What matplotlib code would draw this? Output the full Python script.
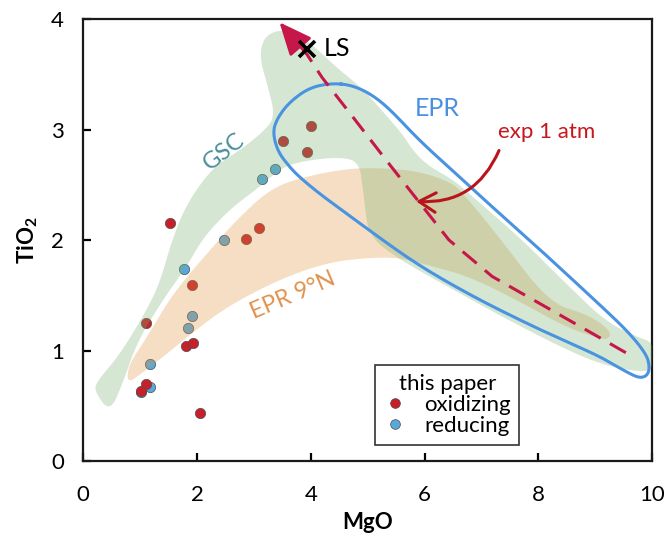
import numpy as np
import matplotlib.pyplot as plt
from matplotlib.lines import Line2D

plt.rcParams['font.family'] = ['Lato', 'DejaVu Sans']
plt.rcParams['mathtext.fontset'] = 'custom'
plt.rcParams['mathtext.bf'] = 'Lato:bold'
plt.rcParams['mathtext.rm'] = 'Lato'

# this paper - experiments
ox_mgo = [1.52, 2.87, 3.09, 3.52, 3.93, 4.00, 1.92, 1.10, 1.80, 1.93, 1.10, 1.01, 2.05]
ox_tio2 = [2.15, 2.01, 2.11, 2.90, 2.80, 3.03, 1.59, 1.25, 1.04, 1.07, 0.70, 0.63, 0.43]
red_mgo = [1.78, 1.92, 1.85, 1.18, 1.17, 1.02, 2.47, 3.15, 3.37]
red_tio2 = [1.74, 1.31, 1.20, 0.88, 0.67, 0.62, 2.00, 2.55, 2.64]

# LS composition
ls_mgo, ls_tio2 = 3.93, 3.73

# GSC field outline
gsc_mgo = [0.47, 0.21, 0.22, 0.64, 1.12, 1.35, 1.56, 1.82, 2.28, 2.75, 3.14, 3.38,
           3.24, 3.11, 3.14, 3.25, 3.45, 3.70, 3.98, 4.50, 4.89, 5.29, 5.61, 5.81,
           6.07, 6.52, 6.85, 7.66, 8.54, 9.19, 9.76, 10.03, 10.03, 9.70, 9.07, 8.36,
           7.31, 6.26, 5.64, 5.17, 5.04, 4.99, 4.92, 4.85, 4.50, 3.92, 3.50, 3.10,
           2.63, 2.28, 2.05, 1.82, 1.40, 0.94, 0.70]
gsc_tio2 = [0.44, 0.62, 0.71, 0.96, 1.37, 1.62, 2.00, 2.33, 2.66, 2.81, 2.97, 3.11,
            3.40, 3.63, 3.78, 3.86, 3.90, 3.88, 3.79, 3.54, 3.38, 3.15, 2.96, 2.80,
            2.67, 2.54, 2.39, 2.03, 1.58, 1.26, 1.12, 1.07, 0.82, 0.81, 0.88, 1.04,
            1.32, 1.62, 1.80, 1.97, 2.08, 2.14, 2.45, 2.71, 2.75, 2.72, 2.66, 2.48,
            2.30, 2.12, 1.97, 1.76, 1.46, 1.07, 0.71]

# EPR 9N field outline
epr9_mgo = [0.77, 0.82, 1.12, 1.58, 2.28, 2.75, 3.33, 4.03, 4.73, 5.33, 5.91, 6.49,
            6.73, 7.26, 8.19, 8.85, 9.20, 9.28, 9.20, 9.07, 8.49, 7.61, 6.78, 6.08,
            5.56, 5.03, 4.33, 3.52, 2.57, 1.99, 1.40, 0.94, 0.82]
epr9_tio2 = [0.76, 0.89, 1.12, 1.52, 1.94, 2.21, 2.48, 2.59, 2.65, 2.65, 2.62, 2.52,
             2.39, 2.06, 1.43, 1.33, 1.21, 1.14, 1.10, 1.11, 1.21, 1.46, 1.67, 1.77,
             1.84, 1.84, 1.80, 1.66, 1.41, 1.19, 0.94, 0.76, 0.72]

# EPR field outline
epr_mgo = [4.38, 4.73, 5.06, 5.38, 5.91, 6.49, 7.08, 7.89, 9.07, 9.60, 9.91, 9.96,
           9.91, 9.77, 9.50, 9.07, 8.36, 7.66, 6.96, 6.26, 5.73, 5.21, 4.68, 4.15,
           3.80, 3.63, 3.42, 3.33, 3.42, 3.63, 3.98]
epr_tio2 = [3.42, 3.40, 3.32, 3.19, 2.90, 2.63, 2.35, 1.98, 1.42, 1.16, 0.96, 0.84,
            0.77, 0.75, 0.82, 0.95, 1.11, 1.28, 1.46, 1.66, 1.83, 2.02, 2.22, 2.42,
            2.57, 2.66, 2.80, 2.98, 3.11, 3.25, 3.38]

# 1 atm experimental trend
exp_mgo = [9.54, 8.83, 8.01, 7.19, 6.43, 5.91, 5.33, 4.73, 4.20, 3.92]
exp_tio2 = [0.98, 1.19, 1.43, 1.67, 2.00, 2.34, 2.72, 3.12, 3.47, 3.69]
exp_tip = (3.45, 3.97)


def rounded(x, y, n=3):
    # corner cutting so the hand drawn fields get soft edges
    p = np.column_stack([x, y])
    for _ in range(n):
        q = np.roll(p, -1, axis=0)
        p = np.column_stack([0.75 * p + 0.25 * q, 0.25 * p + 0.75 * q]).reshape(-1, 2)
    p = np.vstack([p, p[:1]])
    return p[:, 0], p[:, 1]


fig = plt.figure(figsize=(6.66, 5.4), dpi=100)
ax = fig.add_axes([0.125, 0.1463, 0.854, 0.8185])

# data points (fields are drawn on top, semi transparent)
ax.scatter(red_mgo, red_tio2, s=55, color='#5aa7dc', edgecolor='#4d4d4d',
           linewidth=0.5, zorder=2)
ax.scatter(ox_mgo, ox_tio2, s=55, color='#c8202a', edgecolor='#4d4d4d',
           linewidth=0.5, zorder=2)

ax.fill(*rounded(epr9_mgo, epr9_tio2), color='#de943e', alpha=0.3, lw=0, zorder=3)
ax.fill(*rounded(gsc_mgo, gsc_tio2), color='#76b270', alpha=0.3, lw=0, zorder=3)
ax.plot(*rounded(epr_mgo, epr_tio2), color='#4a93e0', lw=2.2, zorder=4)

ax.plot(exp_mgo, exp_tio2, color='#c5174a', lw=2.2, dashes=(6, 3.5), zorder=5)
ax.annotate('', xy=exp_tip, xytext=(exp_mgo[-1], exp_tio2[-1]),
            arrowprops=dict(arrowstyle='-|>,head_length=0.8,head_width=0.35',
                            mutation_scale=25, color='#c5174a', lw=2.2,
                            shrinkA=0, shrinkB=0), zorder=5)

ax.plot(ls_mgo, ls_tio2, marker='x', color='black', ms=11, mew=2.6, zorder=6)
ax.text(ls_mgo + 0.3, ls_tio2, 'LS', fontsize=18, va='center', ha='left', zorder=6)

ax.text(6.22, 3.19, 'EPR', color='#4a90e0', fontsize=18, ha='center', va='center')
ax.text(2.47, 2.80, 'GSC', color='#4a8f9b', fontsize=17, ha='center', va='center',
        rotation=38)
ax.text(3.68, 1.50, 'EPR 9°N', color='#e0924d', fontsize=17, ha='center', va='center',
        rotation=23)
ax.text(8.14, 2.98, 'exp 1 atm', color='#c8161e', fontsize=16, ha='center', va='center')
ax.annotate('', xy=(5.85, 2.35), xytext=(7.31, 2.81),
            arrowprops=dict(arrowstyle='->,head_length=0.6,head_width=0.35',
                            mutation_scale=20, color='#b8141c', lw=2.2,
                            connectionstyle='arc3,rad=-0.35',
                            shrinkA=0, shrinkB=0), zorder=6)

ax.set_xlim(0, 10)
ax.set_ylim(0, 4)
ax.set_xticks([0, 2, 4, 6, 8, 10])
ax.set_yticks([0, 1, 2, 3, 4])
ax.tick_params(direction='in', length=6, width=1.6, labelsize=16, pad=14)
ax.tick_params(axis='x', pad=17)
for s in ax.spines.values():
    s.set_linewidth(1.6)
    s.set_color('#1a1a1a')

ax.set_xlabel('MgO', fontsize=16, fontweight='bold', labelpad=5)
ax.set_ylabel(r'$\mathbf{TiO_2}$', fontsize=16, labelpad=8)

handles = [Line2D([], [], ls='', marker='o', ms=7, color='#c8202a', mec='#4d4d4d', mew=0.5),
           Line2D([], [], ls='', marker='o', ms=7, color='#5aa7dc', mec='#4d4d4d', mew=0.5)]
leg = ax.legend(handles, ['oxidizing', 'reducing'], title='this paper',
                loc='lower left', bbox_to_anchor=(0.513, 0.036), borderaxespad=0,
                fontsize=16, title_fontsize=16, frameon=True, fancybox=False,
                handlelength=1.0, handletextpad=0.8, labelspacing=0.05,
                borderpad=0.4)
leg.get_frame().set_edgecolor('black')
leg.get_frame().set_linewidth(1.2)
leg.set_zorder(10)

fig.savefig('out.png', dpi=100)
